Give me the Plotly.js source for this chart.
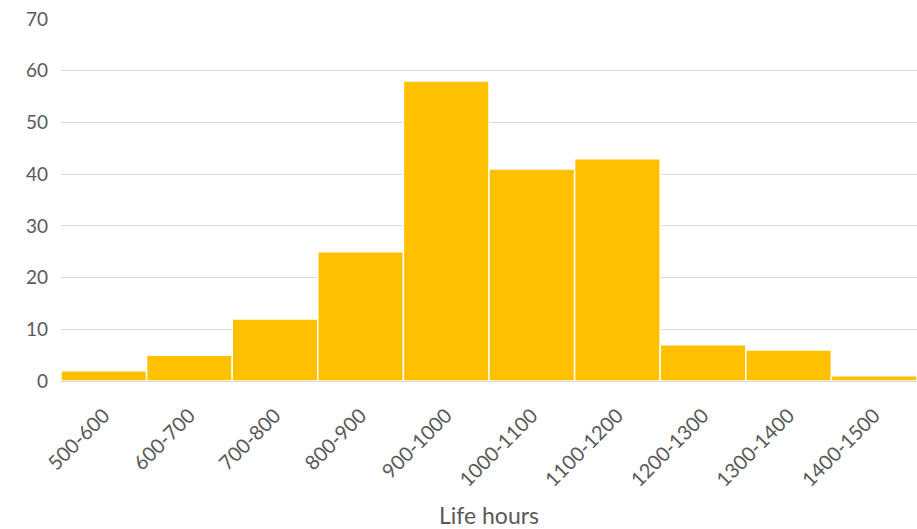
<!DOCTYPE html>
<html><head><meta charset="utf-8">
<script src="https://cdn.plot.ly/plotly-3.0.1.min.js"></script>
<style>html,body{margin:0;padding:0;background:#fff}#c{width:917px;height:529px}</style>
</head><body><div id="c"></div>
<script>
const categories = ["500-600","600-700","700-800","800-900","900-1000","1000-1100","1100-1200","1200-1300","1300-1400","1400-1500"];
const counts = [2,5,12,25,58,41,43,7,6,1];
const yTicks = [0,10,20,30,40,50,60,70];

const trace = {
  type: 'bar', x: categories, y: counts,
  marker: {color: '#FFC000', line: {color: '#FFFFFF', width: 1.5}},
  hoverinfo: 'x+y'
};
const layout = {
  width: 917, height: 529,
  margin: {l: 61, r: 0, t: 19, b: 148},
  paper_bgcolor: '#fff', plot_bgcolor: '#fff',
  bargap: 0, showlegend: false,
  font: {family: 'Lato, sans-serif', color: '#595959'},
  xaxis: {
    type: 'category', tickangle: -45, automargin: false,
    tickfont: {size: 20, color: '#595959'},
    showgrid: false, showline: true, linecolor: '#d9d9d9', linewidth: 1,
    ticks: '', ticklen: 0, ticklabelstandoff: 14,
    title: {text: 'Life hours', font: {size: 23, color: '#595959'}, standoff: 20}
  },
  yaxis: {
    range: [0, 70], tickvals: yTicks, automargin: false,
    tickfont: {size: 19, color: '#595959'},
    gridcolor: '#d9d9d9', gridwidth: 1, zeroline: false,
    showline: false, ticks: '', ticklabelstandoff: 12
  }
};
Plotly.newPlot('c', [trace], layout, {displayModeBar: false, staticPlot: true});
</script></body></html>
